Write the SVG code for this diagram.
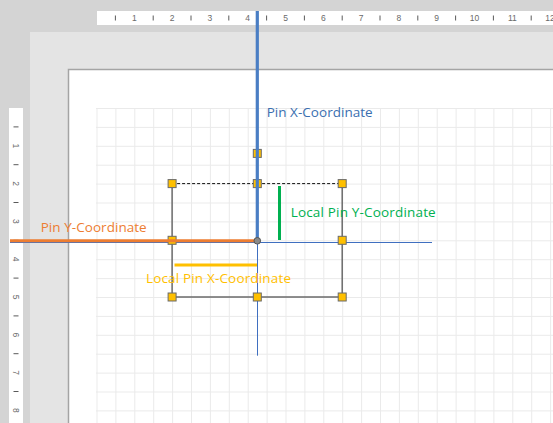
<svg xmlns="http://www.w3.org/2000/svg" width="553" height="423" viewBox="0 0 553 423">
<defs>
<style>
.rt{font-family:"Liberation Sans",Arial,sans-serif;font-size:8.5px;fill:#6a6a6a;text-anchor:middle}
.tick{stroke:#5a5a5a;stroke-width:1}
.lbl{font-family:"Open Sans","Noto Sans",sans-serif;font-size:13.5px}
.h{fill:#ffc000;stroke:#6b6b6b;stroke-width:1}
</style>
<pattern id="grid" patternUnits="userSpaceOnUse" x="96.5" y="108" width="18.9" height="18.9">
<path d="M0.5 0V18.9M0 0.5H18.9" fill="none" stroke="#eaeaea" stroke-width="1"/>
</pattern>
</defs>
<g id="background">
<rect x="0" y="0" width="553" height="423" fill="#d4d4d4"/>
<rect x="30" y="32" width="523" height="391" fill="#e4e4e4"/>
<rect x="68" y="69" width="485" height="354" fill="#ffffff"/>
<path d="M68.5 423V69.5H553" fill="none" stroke="#a4a4a4" stroke-width="1.5"/>
<rect x="96" y="108" width="457" height="315" fill="url(#grid)"/>
</g>
<g id="top-ruler">
<rect x="97" y="11" width="456" height="14" fill="#ffffff"/>
<g class="tick">
<line x1="115.4" y1="15.5" x2="115.4" y2="20.5"/><line x1="153.2" y1="15.5" x2="153.2" y2="20.5"/><line x1="191" y1="15.5" x2="191" y2="20.5"/><line x1="228.8" y1="15.5" x2="228.8" y2="20.5"/><line x1="266.6" y1="15.5" x2="266.6" y2="20.5"/><line x1="304.4" y1="15.5" x2="304.4" y2="20.5"/><line x1="342.2" y1="15.5" x2="342.2" y2="20.5"/><line x1="380" y1="15.5" x2="380" y2="20.5"/><line x1="417.8" y1="15.5" x2="417.8" y2="20.5"/><line x1="455.6" y1="15.5" x2="455.6" y2="20.5"/><line x1="493.4" y1="15.5" x2="493.4" y2="20.5"/><line x1="531.2" y1="15.5" x2="531.2" y2="20.5"/>
</g>
<text class="rt" x="134.3" y="21">1</text><text class="rt" x="172.1" y="21">2</text><text class="rt" x="209.9" y="21">3</text><text class="rt" x="247.7" y="21">4</text><text class="rt" x="285.5" y="21">5</text><text class="rt" x="323.3" y="21">6</text><text class="rt" x="361.1" y="21">7</text><text class="rt" x="398.9" y="21">8</text><text class="rt" x="436.7" y="21">9</text><text class="rt" x="474.5" y="21">10</text><text class="rt" x="512.3" y="21">11</text><text class="rt" x="550.1" y="21">12</text>
</g>
<g id="left-ruler">
<rect x="9" y="108" width="14" height="315" fill="#ffffff"/>
<g class="tick">
<line x1="13.5" y1="126.9" x2="18.5" y2="126.9"/><line x1="13.5" y1="164.7" x2="18.5" y2="164.7"/><line x1="13.5" y1="202.5" x2="18.5" y2="202.5"/><line x1="13.5" y1="240.3" x2="18.5" y2="240.3"/><line x1="13.5" y1="278.1" x2="18.5" y2="278.1"/><line x1="13.5" y1="315.9" x2="18.5" y2="315.9"/><line x1="13.5" y1="353.7" x2="18.5" y2="353.7"/><line x1="13.5" y1="391.5" x2="18.5" y2="391.5"/>
</g>
<text class="rt" transform="translate(16 145.8) rotate(90)" x="0" y="3">1</text>
<text class="rt" transform="translate(16 183.6) rotate(90)" x="0" y="3">2</text>
<text class="rt" transform="translate(16 221.4) rotate(90)" x="0" y="3">3</text>
<text class="rt" transform="translate(16 259.2) rotate(90)" x="0" y="3">4</text>
<text class="rt" transform="translate(16 297) rotate(90)" x="0" y="3">5</text>
<text class="rt" transform="translate(16 334.8) rotate(90)" x="0" y="3">6</text>
<text class="rt" transform="translate(16 372.6) rotate(90)" x="0" y="3">7</text>
<text class="rt" transform="translate(16 410.4) rotate(90)" x="0" y="3">8</text>
</g>
<g id="shape">
<path d="M172.1 183.6V297H342.2V183.6" fill="none" stroke="#6b6b6b" stroke-width="1.5"/>
<line x1="172.1" y1="183.6" x2="342.2" y2="183.6" stroke="#111" stroke-width="1" stroke-dasharray="3 2"/>
</g>
<g id="connectors">
<line x1="257.5" y1="240" x2="257.5" y2="355.7" stroke="#3f6fc0" stroke-width="1"/>
<line x1="10" y1="242.5" x2="432" y2="242.5" stroke="#3f6fc0" stroke-width="1"/>
</g>
<g id="handles">
<rect class="h" x="168.1" y="179.6" width="8" height="8"/>
<rect class="h" x="253.3" y="179.6" width="8" height="8"/>
<rect class="h" x="338.2" y="179.6" width="8" height="8"/>
<rect class="h" x="168.1" y="236.3" width="8" height="8"/>
<rect class="h" x="338.2" y="236.3" width="8" height="8"/>
<rect class="h" x="168.1" y="293" width="8" height="8"/>
<rect class="h" x="253.3" y="293" width="8" height="8"/>
<rect class="h" x="338.2" y="293" width="8" height="8"/>
<rect class="h" x="253.3" y="149.4" width="8" height="8"/>
</g>
<g id="measures">
<line x1="257.3" y1="11" x2="257.3" y2="240" stroke="#4a7ec4" stroke-width="3.2"/>
<line x1="10" y1="240.8" x2="257" y2="240.8" stroke="#ed7d31" stroke-width="3"/>
<line x1="279.5" y1="186" x2="279.5" y2="240" stroke="#00b050" stroke-width="3"/>
<line x1="174.5" y1="265" x2="257" y2="265" stroke="#ffc000" stroke-width="3"/>
<circle cx="257.3" cy="240.8" r="3.3" fill="#8a8a8a" stroke="#555" stroke-width="1"/>
</g>
<g id="labels">
<text class="lbl" x="266.7" y="117" fill="#3a6fb0" textLength="106">Pin X-Coordinate</text>
<text class="lbl" x="40.7" y="231.7" fill="#ed7d31" textLength="106">Pin Y-Coordinate</text>
<text class="lbl" x="290.7" y="216.7" fill="#00b050" textLength="145">Local Pin Y-Coordinate</text>
<text class="lbl" x="146" y="283.3" fill="#ffc000" textLength="145">Local Pin X-Coordinate</text>
</g>
</svg>
